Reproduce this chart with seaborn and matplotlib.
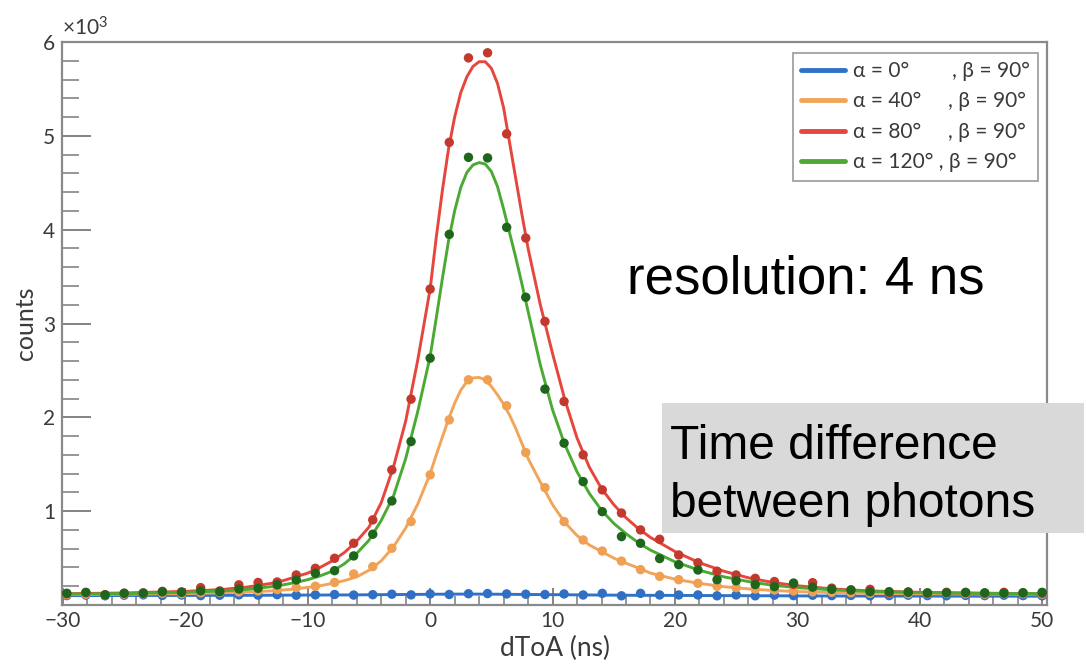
import matplotlib
matplotlib.use("Agg")
import matplotlib.pyplot as plt
import seaborn as sns
import pandas as pd
from matplotlib.patches import Rectangle
from matplotlib.lines import Line2D
from matplotlib.ticker import MultipleLocator

# ---------------- data ----------------
bin_centers = [-29.69, -28.13, -26.56, -25.0, -23.44, -21.88, -20.31,
               -18.75, -17.19, -15.63, -14.06, -12.5, -10.94, -9.38, -7.81,
               -6.25, -4.69, -3.13, -1.56,
               0.0, 1.56, 3.13, 4.69, 6.25, 7.81, 9.38, 10.94, 12.5, 14.06,
               15.63, 17.19, 18.75,
               20.31, 21.88, 23.44, 25.0, 26.56, 28.13, 29.69, 31.25, 32.81,
               34.38, 35.94,
               37.5, 39.06, 40.63, 42.19, 43.75, 45.31, 46.88, 48.44, 50.0]

counts_a0 = [100, 105, 98, 104, 108, 102, 106,
             100, 104, 108, 105, 110, 104, 108, 112, 106, 110, 115, 108,
             118, 112, 120, 122, 118, 115, 112, 118, 107, 124, 98, 124, 107,
             107, 107, 98, 107, 98, 105, 100, 104, 100, 102, 98,
             100, 104, 100, 98, 102, 100, 104, 100, 98]
counts_a40 = [110, 115, 105, 115, 120, 125, 120,
              130, 135, 140, 150, 165, 185, 200, 240, 331, 409, 605, 889,
              1387, 1973, 2400, 2400, 2123, 1625, 1251, 889, 693, 575, 468, 377, 305,
              270, 231, 200, 185, 170, 160, 150, 140, 135, 130, 125,
              125, 120, 120, 125, 120, 115, 120, 120, 115]
counts_a80 = [120, 130, 110, 125, 130, 145, 140,
              185, 150, 215, 240, 245, 320, 391, 498, 658, 907, 1440, 2194,
              3367, 4931, 5831, 5885, 5021, 3911, 3022, 2169, 1600, 1227, 980, 800, 700,
              533, 450, 360, 320, 284, 250, 220, 238, 180, 160, 167,
              130, 140, 125, 135, 130, 125, 135, 130, 125]
counts_a120 = [125, 135, 107, 125, 125, 140, 135,
               150, 142, 170, 178, 215, 267, 338, 366, 523, 754, 1109, 1742,
               2631, 3950, 4771, 4765, 4025, 3280, 2301, 1725, 1315, 995, 729, 658, 495,
               430, 373, 270, 258, 218, 195, 234, 190, 167, 160, 142,
               142, 135, 130, 130, 135, 130, 125, 130, 135]

fit_x = [-30, -25, -20, -17, -15, -13,
         -12, -11, -10, -9, -8, -7, -6, -5, -4, -3, -2, -1,
         0, 0.5, 1, 1.5, 2, 2.5, 3, 3.5, 4, 4.5, 5, 5.5, 6, 6.5, 7, 7.5, 8,
         9, 10, 11, 12, 13, 14, 15, 16, 17, 18,
         20, 22, 24, 26, 28, 30,
         33, 36, 40, 45, 50]
fit_a0 = [100, 101, 102, 103, 103, 104,
          105, 105, 106, 106, 107, 107, 108, 109, 110, 111, 112, 113,
          114, 115, 115, 116, 116, 116, 116, 116, 116, 116, 115, 115, 114, 114, 113, 113, 112,
          111, 110, 109, 108, 107, 106, 105, 104, 103, 103,
          102, 101, 100, 99, 98, 97,
          96, 95, 95, 94, 94]
fit_a40 = [110, 115, 122, 130, 138, 150,
           160, 172, 188, 205, 230, 260, 300, 370, 470, 620, 820, 1080,
           1400, 1600, 1790, 1980, 2150, 2290, 2380, 2420, 2425, 2400, 2330, 2240, 2140, 2020, 1880, 1720, 1560,
           1310, 1070, 880, 740, 640, 570, 500, 445, 395, 340,
           275, 230, 195, 172, 155, 143,
           132, 125, 120, 117, 115]
fit_a80 = [120, 128, 145, 165, 190, 230,
           260, 300, 340, 400, 470, 560, 680, 830, 1090, 1470, 1960, 2620,
           3370, 3920, 4420, 4860, 5200, 5460, 5630, 5740, 5790, 5790, 5720, 5560, 5300, 4920, 4540, 4160, 3800,
           3200, 2680, 2190, 1780, 1470, 1240, 1070, 930, 815, 720,
           570, 450, 360, 290, 240, 205,
           170, 150, 135, 125, 120]
fit_a120 = [115, 122, 135, 150, 165, 195,
            215, 240, 270, 310, 360, 440, 550, 690, 900, 1160, 1560, 2070,
            2650, 3060, 3480, 3880, 4200, 4450, 4610, 4690, 4715, 4700, 4620, 4460, 4220, 3960, 3700, 3420, 3130,
            2560, 2080, 1710, 1420, 1190, 1010, 870, 760, 665, 585,
            460, 370, 300, 250, 210, 185,
            160, 145, 132, 125, 120]

series_names = ["α = 0°", "α = 40°", "α = 80°", "α = 120°"]
legend_labels = ["α = 0°        , β = 90°",
                 "α = 40°     , β = 90°",
                 "α = 80°     , β = 90°",
                 "α = 120° , β = 90°"]
line_colors = ["#2f72c8", "#f2a55a", "#e6463d", "#4caa34"]
point_colors = ["#2f70c4", "#efa052", "#c3392e", "#1f661d"]

x_ticks = [-30, -20, -10, 0, 10, 20, 30, 40, 50]
y_ticks = [1000, 2000, 3000, 4000, 5000, 6000]
y_tick_labels = ["1", "2", "3", "4", "5", "6"]

# ---------------- tidy frames ----------------
pts = pd.concat([
    pd.DataFrame({"dToA": bin_centers, "counts": c, "series": n})
    for c, n in zip([counts_a0, counts_a40, counts_a80, counts_a120], series_names)
], ignore_index=True)
fits = pd.concat([
    pd.DataFrame({"dToA": fit_x, "counts": c, "series": n})
    for c, n in zip([fit_a0, fit_a40, fit_a80, fit_a120], series_names)
], ignore_index=True)

# ---------------- style ----------------
sns.set_theme(style="white")
plt.rcParams["font.family"] = ["Lato", "DejaVu Sans"]
plt.rcParams["mathtext.fontset"] = "custom"
plt.rcParams["mathtext.rm"] = "Lato"
plt.rcParams["mathtext.default"] = "regular"

fig = plt.figure(figsize=(10.86, 6.66), dpi=100)
ax = fig.add_axes([0.0571, 0.0916, 0.9070, 0.8453])

sns.lineplot(data=fits, x="dToA", y="counts", hue="series", hue_order=series_names,
             palette=dict(zip(series_names, line_colors)), linewidth=2.1,
             legend=False, ax=ax, zorder=2)
sns.scatterplot(data=pts, x="dToA", y="counts", hue="series", hue_order=series_names,
                palette=dict(zip(series_names, point_colors)), s=46,
                edgecolor="none", legend=False, ax=ax, zorder=3)

ax.set_xlim(-30.08, 50.4)
ax.set_ylim(0, 6000)
ax.set_xticks(x_ticks)
ax.set_yticks(y_ticks, labels=y_tick_labels)
ax.xaxis.set_minor_locator(MultipleLocator(2))
ax.yaxis.set_minor_locator(MultipleLocator(200))

tick_col = "#7a7a7a"
txt_col = "#3a3a3a"
ax.tick_params(axis="y", which="major", direction="in", length=21, width=1.3,
               color=tick_col, labelsize=15, labelcolor=txt_col, pad=5, left=True)
ax.tick_params(axis="y", which="minor", direction="in", length=12, width=1.1,
               color=tick_col, left=True)
ax.tick_params(axis="x", which="major", direction="in", length=12, width=1.3,
               color=tick_col, labelsize=15, labelcolor=txt_col, pad=4, bottom=True)
ax.tick_params(axis="x", which="minor", direction="in", length=6.5, width=1.1,
               color=tick_col, bottom=True)
for sp in ax.spines.values():
    sp.set_color("#8a8a8a")
    sp.set_linewidth(1.6)

ax.set_xlabel("dToA (ns)", fontsize=19, color=txt_col, labelpad=4)
ax.set_ylabel("counts", fontsize=18, color=txt_col, labelpad=4)

ax.text(0.0, 1.004, r"$\times10^{3}$", transform=ax.transAxes, ha="left",
        va="bottom", fontsize=15, color=txt_col)

handles = [Line2D([], [], color=c, lw=3.5) for c in line_colors]
leg = ax.legend(handles, legend_labels, loc="upper right",
                bbox_to_anchor=(0.991, 0.981), borderaxespad=0, fontsize=15,
                frameon=True, fancybox=False, edgecolor="#8a8a8a",
                handlelength=2.1, handletextpad=0.4, labelspacing=0.5,
                borderpad=0.4)
leg.get_frame().set_linewidth(1.3)
for t in leg.get_texts():
    t.set_color(txt_col)

# ---------------- annotations ----------------
fig.text(627 / 1086, 1 - 293 / 666, "resolution: 4 ns", fontsize=38,
         family="Liberation Sans", color="black", ha="left", va="baseline")
box = Rectangle((662 / 1086, 1 - 533 / 666), (1084 - 662) / 1086, (533 - 403) / 666,
                transform=fig.transFigure, facecolor="#d9d9d9", edgecolor="none",
                zorder=5)
fig.add_artist(box)
fig.text(670 / 1086, 1 - 459 / 666, "Time difference", fontsize=34.5,
         family="Liberation Sans", color="black", ha="left", va="baseline", zorder=6)
fig.text(670 / 1086, 1 - 517 / 666, "between photons", fontsize=34.5,
         family="Liberation Sans", color="black", ha="left", va="baseline", zorder=6)

fig.savefig("out.png", dpi=100)
